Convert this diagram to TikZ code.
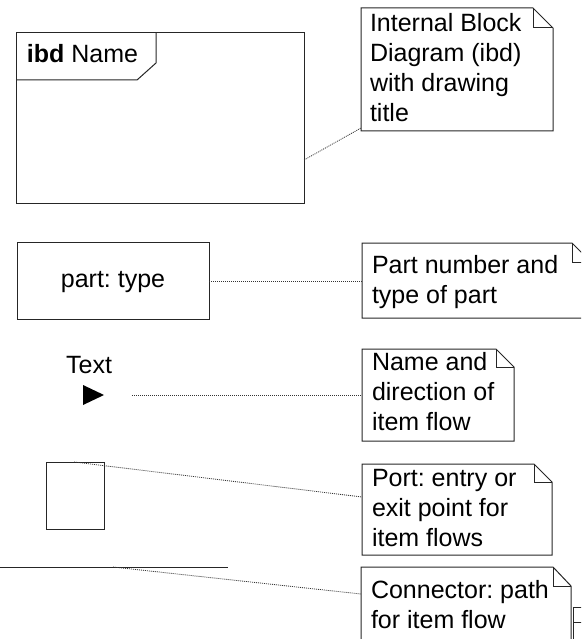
\documentclass[tikz,border=0pt]{standalone}
\usepackage{fontspec}
\setmainfont{Liberation Sans}
\usetikzlibrary{calc}
\begin{document}
\frenchspacing
\begin{tikzpicture}[x=1pt,y=-1pt,
  outline/.style={draw=black!85, line width=1pt},
  slot/.style={inner sep=0pt, outer sep=0pt, draw=none, anchor=north west},
  txt/.style={inner sep=0pt, outer sep=0pt, font=\fontsize{25}{30}\selectfont, text=black},
  notetext/.style={txt, align=left, anchor=base west},
  leader/.style={draw=black!80, line width=0.8pt, dash pattern=on 1pt off 1pt}]
\useasboundingbox (0,0) rectangle (581,639);
\clip (0,0) rectangle (581,639);

% --- ibd frame ---
\node[slot, outline, minimum width=288pt, minimum height=170pt] (frame) at (16,33) {};
\draw[outline] (16,80) -- (137,80) -- (156,63) -- (156,33);
\node[txt, anchor=base west] (title) at (27,63) {\textbf{ibd} Name};

% --- note 1 ---
\node[slot, minimum width=192pt, minimum height=123pt] (n1) at (361,8) {};
\draw[outline] (n1.north west) -- ($(n1.north east)+(-20,0)$) -- ($(n1.north east)+(0,20)$) -- (n1.south east) -- (n1.south west) -- cycle;
\draw[outline] ($(n1.north east)+(-20,0)$) -- ($(n1.north east)+(-20,20)$) -- ($(n1.north east)+(0,20)$);
\node[notetext] (t1) at (370,122) {Internal Block\\Diagram (ibd)\\with drawing\\title};

% --- part ---
\node[slot, outline, minimum width=192pt, minimum height=77pt] (part) at (17,242) {};
\node[txt, anchor=base] (partlabel) at (113,287) {part: type};

% --- note 2 ---
\node[slot, minimum width=229pt, minimum height=75pt] (n2) at (362,243) {};
\draw[outline] (n2.north west) -- ($(n2.north east)+(-19,0)$) -- ($(n2.north east)+(0,19)$) -- (n2.south east) -- (n2.south west) -- cycle;
\draw[outline] ($(n2.north east)+(-19,0)$) -- ($(n2.north east)+(-19,19)$) -- ($(n2.north east)+(0,19)$);
\node[notetext] (t2) at (372,303) {Part number and\\type of part};

% --- item flow ---
\node[txt, anchor=base] (flowlabel) at (89,373) {Text};
\node[inner sep=0pt, outer sep=0pt] (flow) at (93.5,395) {};
\fill[black] (83,385) -- (104,395) -- (83,405) -- cycle;

% --- note 3 ---
\node[slot, minimum width=152pt, minimum height=92pt] (n3) at (362,349) {};
\draw[outline] (n3.north west) -- ($(n3.north east)+(-18,0)$) -- ($(n3.north east)+(0,18)$) -- (n3.south east) -- (n3.south west) -- cycle;
\draw[outline] ($(n3.north east)+(-18,0)$) -- ($(n3.north east)+(-18,18)$) -- ($(n3.north east)+(0,18)$);
\node[notetext] (t3) at (372,430) {Name and\\direction of\\item flow};

% --- port ---
\node[slot, outline, minimum width=58pt, minimum height=67pt] (port) at (46,462) {};

% --- note 4 ---
\node[slot, minimum width=190pt, minimum height=91pt] (n4) at (362,464) {};
\draw[outline] (n4.north west) -- ($(n4.north east)+(-18,0)$) -- ($(n4.north east)+(0,18)$) -- (n4.south east) -- (n4.south west) -- cycle;
\draw[outline] ($(n4.north east)+(-18,0)$) -- ($(n4.north east)+(-18,18)$) -- ($(n4.north east)+(0,18)$);
\node[notetext] (t4) at (372,546) {Port: entry or\\exit point for\\item flows};

% --- connector line ---
\coordinate (ca) at (0,567);
\coordinate (cb) at (228,567);
\draw[outline] (ca) -- (cb);

% --- note 5 ---
\node[slot, minimum width=210pt, minimum height=93pt] (n5) at (361,567) {};
\draw[outline] (n5.north west) -- ($(n5.north east)+(-18,0)$) -- ($(n5.north east)+(0,19)$) -- (n5.south east) -- (n5.south west) -- cycle;
\draw[outline] ($(n5.north east)+(-18,0)$) -- ($(n5.north east)+(-18,19)$) -- ($(n5.north east)+(0,19)$);
\node[notetext] (t5) at (371,628) {Connector: path\\for item flow};

% --- partly visible box at bottom right ---
\node[slot, outline, minimum width=40pt, minimum height=50pt] (extra) at (573,607) {};
\draw[outline] (573,622) -- (585,622);

% --- leaders ---
\coordinate (f1) at (304,160);  \coordinate (e1) at (361,128);
\coordinate (f2) at (209,281);  \coordinate (e2) at (362,281);
\coordinate (f3) at (132,395);  \coordinate (e3) at (362,395);
\coordinate (f4) at (74,462);   \coordinate (e4) at (362,497);
\coordinate (f5) at (113,567);  \coordinate (e5) at (361,594);
\draw[leader] (f1) -- (e1);
\draw[leader] (f2) -- (e2);
\draw[leader] (f3) -- (e3);
\draw[leader] (f4) -- (e4);
\draw[leader] (f5) -- (e5);
\end{tikzpicture}
\end{document}
